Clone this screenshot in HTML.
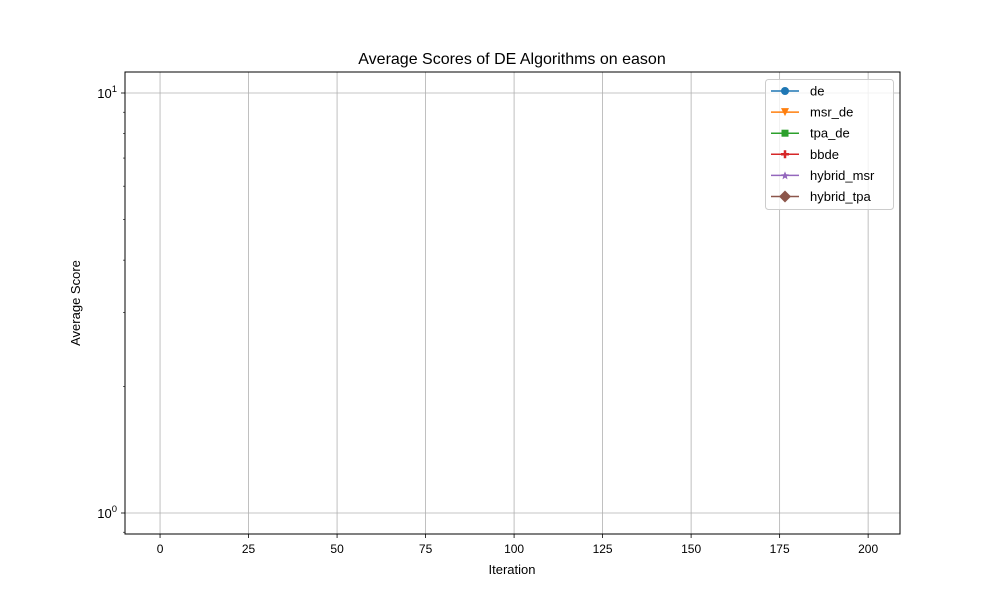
<!DOCTYPE html>
<html><head><meta charset="utf-8"><style>
body{margin:0;background:#fff;}
svg{display:block;font-family:"Liberation Sans","DejaVu Sans",sans-serif;}
</style></head><body>
<svg id="chart" width="1000" height="600" viewBox="0 0 1000 600">
<rect width="1000" height="600" fill="#fff"/>
<text x="512" y="64" text-anchor="middle" font-size="16" fill="#000">Average Scores of DE Algorithms on eason</text>
<text x="512" y="574" text-anchor="middle" font-size="13" fill="#000">Iteration</text>
<text x="0" y="0" transform="translate(80,303) rotate(-90)" text-anchor="middle" font-size="13" fill="#000">Average Score</text>
<g id="grid"></g>
<g id="series"></g>
<rect x="125" y="72" width="775" height="462" fill="none" stroke="#000" stroke-width="1"/>
<g id="ticks"></g>
<g id="legend"></g>
</svg>
<script>
const xTicks=[0,25,50,75,100,125,150,175,200];
const yMajor=[1,10];
const yMinor=[0.9,2,3,4,5,6,7,8,9];
const seriesNames=["de","msr_de","tpa_de","bbde","hybrid_msr","hybrid_tpa"];
const seriesColors=["#1f77b4","#ff7f0e","#2ca02c","#d62728","#9467bd","#8c564b"];
const iterations=[];
const deVals=[];
const msrVals=[];
const tpaVals=[];
const bbdeVals=[];
const hmsrVals=[];
const htpaVals=[];
const allVals=[deVals,msrVals,tpaVals,bbdeVals,hmsrVals,htpaVals];

const NS="http://www.w3.org/2000/svg";
const L=125,R=900,T=72,B=534;
const xMin=-9.9,xMax=209,yLo=-0.05,yHi=1.05;
function xs(v){return L+(v-xMin)/(xMax-xMin)*(R-L);}
function ys(v){return B-(Math.log10(v)-yLo)/(yHi-yLo)*(B-T);}
function mk(tag,attrs,parent){const e=document.createElementNS(NS,tag);for(const k in attrs)e.setAttribute(k,attrs[k]);parent.appendChild(e);return e;}
const grid=document.getElementById('grid'),ticks=document.getElementById('ticks'),ser=document.getElementById('series'),leg=document.getElementById('legend');

xTicks.forEach(t=>{
  const x=xs(t);
  let g=mk('line',{x1:x,x2:x,y1:T,y2:B,stroke:'#b0b0b0','stroke-width':0.8},grid);
  
  
  let tk=mk('line',{x1:x,x2:x,y1:B,y2:B+4,stroke:'#000','stroke-width':0.8},ticks);
  
  
  let tx=mk('text',{x:x,y:B+19,'text-anchor':'middle','font-size':12,fill:'#000'},ticks);
  tx.textContent=t;
  
  
});
yMajor.forEach(t=>{
  const y=ys(t);
  let g=mk('line',{x1:L,x2:R,y1:y,y2:y,stroke:'#b0b0b0','stroke-width':0.8},grid);
  
  
  let tk=mk('line',{x1:L-4,x2:L,y1:y,y2:y,stroke:'#000','stroke-width':0.8},ticks);
  
  
  let tx=mk('text',{x:L-8,y:y+5,'text-anchor':'end','font-size':13,fill:'#000'},ticks);
  tx.innerHTML='10<tspan dy="-6" font-size="9.5">'+Math.round(Math.log10(t))+'</tspan>';
  
  
});
yMinor.forEach(t=>{
  const y=ys(t);
  let tk=mk('line',{x1:L-2,x2:L,y1:y,y2:y,stroke:'#000','stroke-width':0.6},ticks);
  
  
});
allVals.forEach((vals,i)=>{
  if(!vals.length)return;
  const pts=vals.map((v,j)=>xs(iterations[j])+','+ys(v)).join(' ');
  let p=mk('polyline',{points:pts,fill:'none',stroke:seriesColors[i],'stroke-width':1.5},ser);
  
  
});
let box=mk('rect',{x:765.5,y:79.5,width:128,height:130,rx:3,fill:'#fff','fill-opacity':0.8,stroke:'#ccc'},leg);


function marker(i,cx,cy,c){
  const s=4;
  if(i===0)return mk('circle',{cx:cx,cy:cy,r:4,fill:c},leg);
  if(i===1)return mk('polygon',{points:`${cx-s},${cy-s} ${cx+s},${cy-s} ${cx},${cy+s}`,fill:c},leg);
  if(i===2)return mk('rect',{x:cx-3.5,y:cy-3.5,width:7,height:7,fill:c},leg);
  if(i===3)return mk('path',{d:`M${cx-4},${cy}H${cx+4}M${cx},${cy-4}V${cy+4}`,stroke:c,'stroke-width':2.5},leg);
  if(i===4)return mk('polygon',{points:`${cx},${cy-4} ${cx+1.2},${cy-1.2} ${cx+4},${cy-1} ${cx+1.8},${cy+1} ${cx+2.5},${cy+4} ${cx},${cy+2.2} ${cx-2.5},${cy+4} ${cx-1.8},${cy+1} ${cx-4},${cy-1} ${cx-1.2},${cy-1.2}`,fill:c},leg);
  return mk('polygon',{points:`${cx},${cy-6} ${cx+6},${cy} ${cx},${cy+6} ${cx-6},${cy}`,fill:c},leg);
}
seriesNames.forEach((n,i)=>{
  const y=91+i*21.1;
  const c=seriesColors[i];
  let ln=mk('line',{x1:771,x2:799,y1:y,y2:y,stroke:c,'stroke-width':1.5},leg);
  
  
  let m=marker(i,785,y,c);
  
  
  let tx=mk('text',{x:810,y:y+4.5,'font-size':13,fill:'#000'},leg);
  tx.textContent=n;
  
  
});
</script>
</body></html>
